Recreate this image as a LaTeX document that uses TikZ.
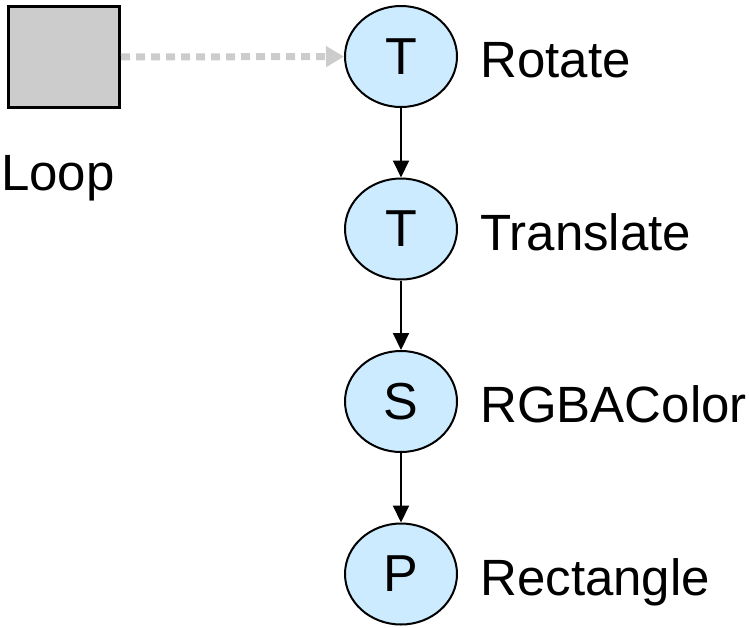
\documentclass[tikz,border=0pt]{standalone}
\usepackage{fontspec}
\setmainfont{Liberation Sans}
\usetikzlibrary{shapes.geometric, arrows.meta}

\definecolor{opblue}{RGB}{204,235,255}
\definecolor{loopgray}{RGB}{204,204,204}

\begin{document}
\begin{tikzpicture}[
    x=0.5pt,y=-0.5pt,
    op/.style={ellipse, draw, line width=1pt, fill=opblue, minimum width=56pt,
      minimum height=50.5pt, inner sep=0pt, font=\fontsize{26}{30}\selectfont},
    lbl/.style={anchor=base west, inner sep=0pt, font=\fontsize{25.5}{30}\selectfont},
    link/.style={line width=1pt, -{Triangle[length=8.5pt,width=8pt]}}
    ]
    \useasboundingbox (0,0) rectangle (749,627);
    % loop box
    \node[draw, line width=1.5pt, fill=loopgray, minimum width=55.5pt,
      minimum height=50.5pt, inner sep=0pt] (loop) at (64,57) {};
    \node[lbl, anchor=base] (looplbl) at ([xshift=-3pt,yshift=-66.5pt]loop.center) {Loop};
    % chain
    \node[op] (rot) at (401,56.5) {T};
    \node[op] (trans) at (401,229) {T};
    \node[op] (col) at (401,401.5) {S};
    \node[op] (rect) at (401,574) {P};
    \node[lbl] (rotlbl) at ([xshift=39.5pt,yshift=-10.5pt]rot.center) {Rotate};
    \node[lbl] (translbl) at ([xshift=39.5pt,yshift=-10.5pt]trans.center) {Translate};
    \node[lbl] (collbl) at ([xshift=39.5pt,yshift=-10.5pt]col.center) {RGBAColor};
    \node[lbl] (rectlbl) at ([xshift=39.5pt,yshift=-10.5pt]rect.center) {Rectangle};
    \draw[link] (rot) -- (trans);
    \draw[link] (trans) -- (col);
    \draw[link] (col) -- (rect);
    \draw[loopgray, line width=3.5pt, dash pattern=on 4.5pt off 3pt,
      -{Triangle[length=9pt,width=10pt]}] (loop) -- (rot);
\end{tikzpicture}
\end{document}
